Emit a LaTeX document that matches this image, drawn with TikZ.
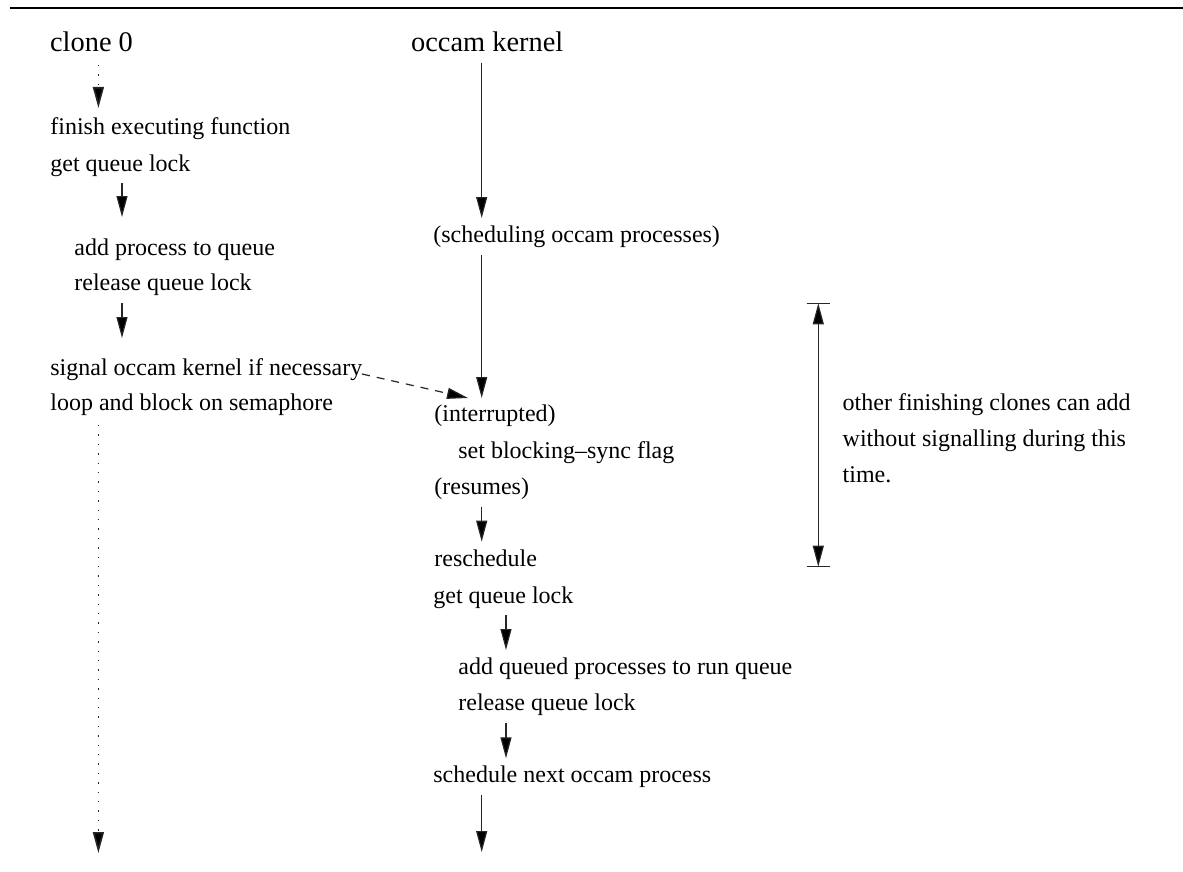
\documentclass[tikz,border=0pt]{standalone}
\usepackage{fontspec}
\setmainfont{Liberation Serif}
\usetikzlibrary{arrows.meta}
\begin{document}
\begin{tikzpicture}[x=0.5pt,y=-0.5pt,
  txt/.style={anchor=base west,inner sep=0pt,font=\fontsize{12}{14}\selectfont},
  head/.style={anchor=base west,inner sep=0pt,font=\fontsize{14.2}{17}\selectfont},
  tip/.style={},
  conn/.style={draw=black!85,line width=0.6pt,-{Triangle[length=10.5pt,width=5.5pt,fill=black]}},
  dotconn/.style={conn,line width=0.8pt,dash pattern=on 0.7pt off 4pt},
  dashconn/.style={conn,dash pattern=on 4pt off 3.5pt},
  dimline/.style={draw=black!85,line width=0.6pt,{Triangle[length=10.5pt,width=5.5pt,fill=black]}-{Triangle[length=10.5pt,width=5.5pt,fill=black]}},
  bar/.style={draw=black!85,line width=0.6pt}]
\useasboundingbox (0,0) rectangle (1183,872);
% top rule
\coordinate (ruleL) at (9.5,7.7);
\coordinate (ruleR) at (1183,7.7);
\draw[line width=1pt] (ruleL) -- (ruleR);

% headers
\node[head] (clone) at (49.7,52) {clone 0};
\node[head] (kernel) at (410.7,51.5) {occam kernel};

% left column
\node[txt] (l1) at (50,134.5) {finish executing function};
\node[txt] (l2) at (50,171) {get queue lock};
\node[txt] (l3) at (74,255) {add process to queue};
\node[txt] (l4) at (74,290.7) {release queue lock};
\node[txt] (l5) at (50,375) {signal occam kernel if necessary};
\node[txt] (l6) at (50,410) {loop and block on semaphore};

% right column
\node[txt] (k1) at (433,242) {(scheduling occam processes)};
\node[txt] (k2) at (434,421.7) {(interrupted)};
\node[txt] (k3) at (458,458.3) {set blocking\textendash sync flag};
\node[txt] (k4) at (434,494) {(resumes)};
\node[txt] (k5) at (434,566.7) {reschedule};
\node[txt] (k6) at (433,603.3) {get queue lock};
\node[txt] (k7) at (458,674) {add queued processes to run queue};
\node[txt] (k8) at (458,710) {release queue lock};
\node[txt] (k9) at (433,782) {schedule next occam process};

% note
\node[txt] (n1) at (842.3,410) {other finishing clones can add};
\node[txt] (n2) at (842.3,446.7) {without signalling during this};
\node[txt] (n3) at (842.3,482.7) {time.};

% arrow end points
\coordinate (a1s) at (98.4,65);   \coordinate (a1e) at (98.4,108);
\coordinate (a2s) at (122,183);   \coordinate (a2e) at (122,217);
\coordinate (a3s) at (122,303);   \coordinate (a3e) at (122,338);
\coordinate (a4s) at (98.4,425);  \coordinate (a4e) at (98.4,853);
\coordinate (b1s) at (481.7,62.7);\coordinate (b1e) at (481.7,218);
\coordinate (b2s) at (481.7,255); \coordinate (b2e) at (481.7,398);
\coordinate (b3s) at (481.7,506.7);\coordinate (b3e) at (481.7,541.7);
\coordinate (b4s) at (506,615);   \coordinate (b4e) at (506,650);
\coordinate (b5s) at (506,723.3); \coordinate (b5e) at (506,758.3);
\coordinate (b6s) at (481.7,795); \coordinate (b6e) at (481.7,852);
\coordinate (ds) at (362,374);    \coordinate (de) at (468,398);
\coordinate (dimT) at (818.3,303.3); \coordinate (dimB) at (818.3,566.7);
\coordinate (barTL) at (806.7,303.3); \coordinate (barTR) at (830,303.3);
\coordinate (barBL) at (806.7,566.7); \coordinate (barBR) at (830,566.7);

\draw[dotconn] (a1s) -- (a1e);
\draw[conn] (a2s) -- (a2e);
\draw[conn] (a3s) -- (a3e);
\draw[dotconn] (a4s) -- (a4e);
\draw[conn] (b1s) -- (b1e);
\draw[conn] (b2s) -- (b2e);
\draw[conn] (b3s) -- (b3e);
\draw[conn] (b4s) -- (b4e);
\draw[conn] (b5s) -- (b5e);
\draw[conn] (b6s) -- (b6e);
\draw[dashconn] (ds) -- (de);
\draw[dimline] (dimT) -- (dimB);
\draw[bar] (barTL) -- (barTR);
\draw[bar] (barBL) -- (barBR);
\end{tikzpicture}
\end{document}
